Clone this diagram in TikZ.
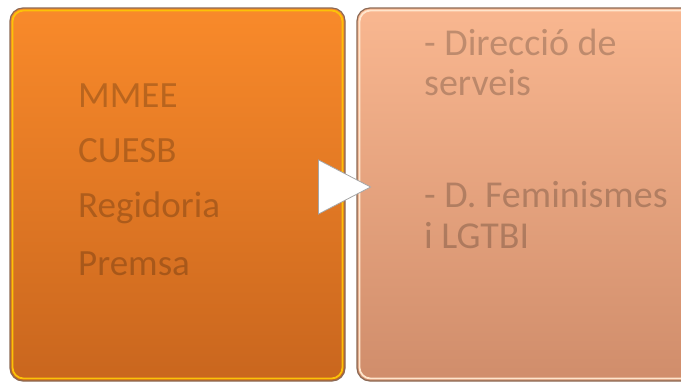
\documentclass[tikz,border=0pt]{standalone}
\usepackage{fontspec}
\setmainfont{Carlito}
\usetikzlibrary{shapes.geometric}
\definecolor{ltop}{HTML}{F98A2A}
\definecolor{lbot}{HTML}{C9661E}
\definecolor{rtop}{HTML}{F9B790}
\definecolor{rbot}{HTML}{D08D6B}
\definecolor{edge}{HTML}{8C6A55}
\tikzset{
  panel/.style={draw=edge, line width=1.2pt, rounded corners=13pt, inner sep=0pt},
  hilite/.style={draw=#1, line width=1.8pt, rounded corners=11pt, inner sep=0pt, fill=none},
  ltxt/.style={anchor=base west, inner sep=0pt, text=black, text opacity=0.22, font=\fontsize{37}{42}\selectfont},
  rtxt/.style={anchor=base west, inner sep=0pt, text=black, text opacity=0.22, font=\fontsize{38}{43}\selectfont},
  chevron/.style={isosceles triangle, isosceles triangle stretches, shape border rotate=0,
    minimum width=54pt, minimum height=52pt, inner sep=0pt, fill=white, draw=gray!70, line width=0.8pt}
}
\begin{document}
\begin{tikzpicture}[x=1pt,y=-1pt]
\useasboundingbox (0,0) rectangle (681,381);
\fill[white] (0,0) rectangle (681,381);
% left panel
\node[panel, top color=ltop, bottom color=lbot, minimum width=335pt, minimum height=373pt] (L) at (177.5,194.5) {};
\node[hilite=yellow!55!orange, minimum width=330pt, minimum height=368pt] (Lh) at (177.5,194.5) {};
% right panel
\node[panel, top color=rtop, bottom color=rbot, minimum width=345pt, minimum height=373pt] (R) at (529.5,194.5) {};
\node[hilite=orange!20, minimum width=340pt, minimum height=368pt] (Rh) at (529.5,194.5) {};
% arrow
\node[chevron] (A) at (335,187) {};
% texts
\node[ltxt] (t1) at (78,107) {MMEE};
\node[ltxt] (t2) at (78,162) {CUESB};
\node[ltxt] (t3) at (78,217) {Regidoria};
\node[ltxt] (t4) at (78,275) {Premsa};
\node[rtxt] (r1) at (424,55) {- Direcció de};
\node[rtxt] (r2) at (424,95) {serveis};
\node[rtxt] (r3) at (424,207) {- D. Feminismes};
\node[rtxt] (r4) at (424,248) {i LGTBI};
\end{tikzpicture}
\end{document}
